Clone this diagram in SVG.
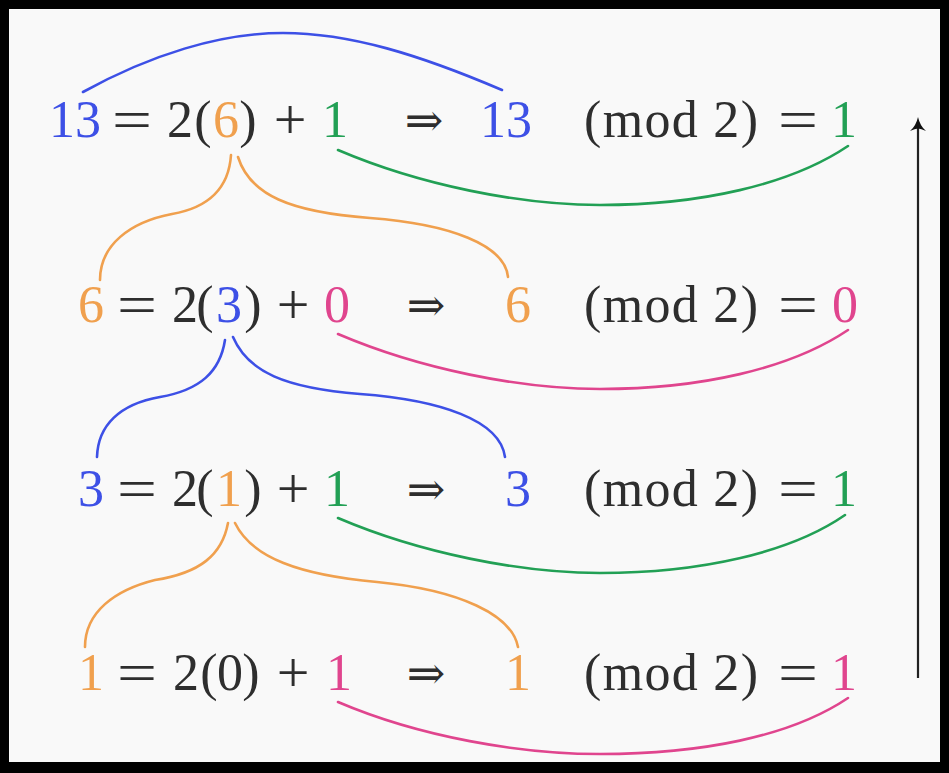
<svg xmlns="http://www.w3.org/2000/svg" width="949" height="773" viewBox="0 0 949 773">
<defs>
<style>
.t{font-family:"Liberation Serif","DejaVu Serif",serif;font-size:52px;fill:#2e2e2e;text-anchor:middle}
.op{font-size:58px}
.ar{font-family:"DejaVu Serif","Liberation Serif",serif;font-size:46px}
.b{fill:#3d50e6}.o{fill:#f0a04e}.g{fill:#22a055}.p{fill:#e0458e}
.c{fill:none;stroke-width:2.6;stroke-linecap:round}
.cb{stroke:#3d50e6}.co{stroke:#f0a04e}.cg{stroke:#22a055}.cp{stroke:#e0458e}
</style>
</defs>
<rect x="0" y="0" width="949" height="773" fill="#000"/>
<rect x="9" y="9" width="931" height="753" fill="#f9f9f9"/>

<g id="row1">
<text class="t b" x="75" y="137">13</text>
<text class="t op" x="132" y="139" textLength="40" lengthAdjust="spacingAndGlyphs">=</text>
<text class="t" x="180" y="137">2</text>
<text class="t" x="203" y="137">(</text>
<text class="t o" x="226" y="137">6</text>
<text class="t" x="248" y="137">)</text>
<text class="t op" x="290" y="139">+</text>
<text class="t g" x="335" y="137">1</text>
<text class="t ar" x="424" y="136">⇒</text>
<text class="t b" x="506" y="137">13</text>
<text class="t" x="584" y="137" style="text-anchor:start" textLength="174" lengthAdjust="spacing">(mod 2)</text>
<text class="t op" x="798" y="139" textLength="40" lengthAdjust="spacingAndGlyphs">=</text>
<text class="t g" x="844" y="137">1</text>
</g>

<g id="row2">
<text class="t o" x="91" y="322">6</text>
<text class="t op" x="137" y="324" textLength="40" lengthAdjust="spacingAndGlyphs">=</text>
<text class="t" x="185" y="322">2</text>
<text class="t" x="205" y="322">(</text>
<text class="t b" x="229" y="322">3</text>
<text class="t" x="253" y="322">)</text>
<text class="t op" x="293" y="324">+</text>
<text class="t p" x="337" y="322">0</text>
<text class="t ar" x="426" y="321">⇒</text>
<text class="t o" x="518" y="322">6</text>
<text class="t" x="584" y="322" style="text-anchor:start" textLength="174" lengthAdjust="spacing">(mod 2)</text>
<text class="t op" x="798" y="324" textLength="40" lengthAdjust="spacingAndGlyphs">=</text>
<text class="t p" x="845" y="322">0</text>
</g>

<g id="row3">
<text class="t b" x="91" y="506">3</text>
<text class="t op" x="137" y="508" textLength="40" lengthAdjust="spacingAndGlyphs">=</text>
<text class="t" x="185" y="506">2</text>
<text class="t" x="205" y="506">(</text>
<text class="t o" x="229" y="506">1</text>
<text class="t" x="253" y="506">)</text>
<text class="t op" x="293" y="508">+</text>
<text class="t g" x="337" y="506">1</text>
<text class="t ar" x="426" y="505">⇒</text>
<text class="t b" x="518" y="506">3</text>
<text class="t" x="584" y="506" style="text-anchor:start" textLength="174" lengthAdjust="spacing">(mod 2)</text>
<text class="t op" x="798" y="508" textLength="40" lengthAdjust="spacingAndGlyphs">=</text>
<text class="t g" x="844" y="506">1</text>
</g>

<g id="row4">
<text class="t o" x="91" y="690">1</text>
<text class="t op" x="137" y="692" textLength="40" lengthAdjust="spacingAndGlyphs">=</text>
<text class="t" x="186" y="690">2</text>
<text class="t" x="209" y="690">(</text>
<text class="t" x="230" y="690">0</text>
<text class="t" x="251" y="690">)</text>
<text class="t op" x="293" y="692">+</text>
<text class="t p" x="339" y="690">1</text>
<text class="t ar" x="426" y="689">⇒</text>
<text class="t o" x="518" y="690">1</text>
<text class="t" x="584" y="690" style="text-anchor:start" textLength="174" lengthAdjust="spacing">(mod 2)</text>
<text class="t op" x="798" y="692" textLength="40" lengthAdjust="spacingAndGlyphs">=</text>
<text class="t p" x="844" y="690">1</text>
</g>

<g id="connectors">
<path class="c cb" d="M83,92 C150,55 220,33 283,33 C350,33 420,55 502,90"/>
<path class="c cg" d="M338,150 C420,185 520,205 600,205 C700,205 790,185 848,146"/>
<path class="c co" d="M231,155 C229,185 212,207 172,214 C130,222 100,245 100,280"/>
<path class="c co" d="M238,157 C250,195 290,212 370,218 C450,224 505,245 508,277"/>
<path class="c cp" d="M338,334 C420,369 520,389 600,389 C700,389 790,369 848,330"/>
<path class="c cb" d="M225,340 C220,372 200,390 160,397 C120,404 98,425 97,457"/>
<path class="c cb" d="M233,337 C248,372 285,388 360,394 C440,400 500,420 505,457"/>
<path class="c cg" d="M338,518 C420,553 520,573 600,573 C700,573 790,553 845,515"/>
<path class="c co" d="M228,523 C222,555 200,573 155,580 C115,590 85,612 85,647"/>
<path class="c co" d="M235,523 C252,558 300,575 377,582 C460,590 512,615 518,647"/>
<path class="c cp" d="M338,702 C420,737 520,754 600,754 C700,754 790,737 848,698"/>
<line x1="918" y1="678" x2="918" y2="124" stroke="#222" stroke-width="2.2"/>
<path d="M918,117 Q916,126 910,131 Q915,128.5 918,128.5 Q921,128.5 926,131 Q920,126 918,117 Z" fill="#111"/>
</g>
</svg>
